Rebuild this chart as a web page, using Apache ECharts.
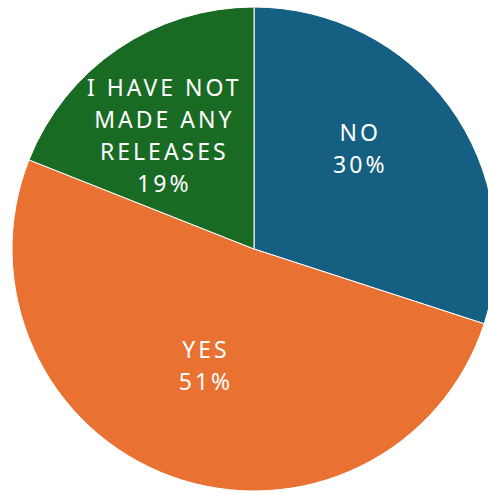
<!DOCTYPE html>
<html>
<head>
<meta charset="utf-8">
<script src="https://cdn.jsdelivr.net/npm/echarts@6/dist/echarts.min.js"></script>
<style>
html,body{margin:0;padding:0;background:#fff;}
#chart{width:488px;height:494px;letter-spacing:3px;}
</style>
</head>
<body>
<div id="chart"></div>
<script>
const categories = ["NO", "YES", "I HAVE NOT\nMADE ANY\nRELEASES"];
const values = [30, 51, 19];
const colors = ["#156082", "#E97132", "#196B24"];
const labelOffsets = [[6, -28], [-6, -1], [-20, -11]];

const chart = echarts.init(document.getElementById('chart'), null, {renderer: 'svg'});
chart.setOption({
  animation: false,
  series: [{
    type: 'pie',
    center: [254, 249],
    radius: [0, 242],
    startAngle: 90,
    clockwise: true,
    itemStyle: {borderColor: '#ffffff', borderWidth: 1},
    label: {
      show: true,
      position: 'inside',
      color: '#ffffff',
      fontFamily: 'Noto Sans',
      fontSize: 23,
      lineHeight: 32,
      align: 'center',
      formatter: p => p.name + '\n' + p.value + '%'
    },
    labelLine: {show: false},
    emphasis: {disabled: true},
    data: categories.map((c, i) => ({
      name: c,
      value: values[i],
      itemStyle: {color: colors[i]},
      label: {offset: labelOffsets[i]}
    }))
  }]
});
</script>
</body>
</html>
